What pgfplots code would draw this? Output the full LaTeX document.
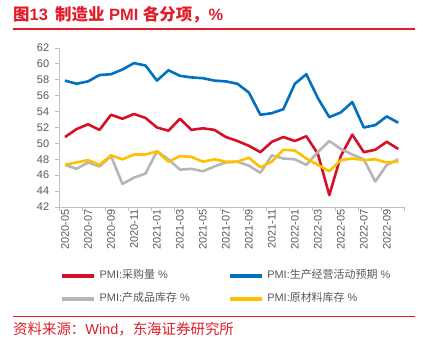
\documentclass[border=0pt]{standalone}
\usepackage{pgfplots}
\pgfplotsset{compat=1.18}
\usepackage{fontspec}
\setmainfont{Liberation Sans}
\newfontfamily\cjk{Noto Sans CJK SC}
\definecolor{tred}{RGB}{226,28,40}
\definecolor{lred}{RGB}{214,16,38}
\definecolor{lblue}{RGB}{0,112,192}
\definecolor{lgray}{RGB}{182,182,182}
\definecolor{lyellow}{RGB}{255,192,0}
\definecolor{tickgray}{RGB}{89,89,89}
\definecolor{axgray}{RGB}{191,191,191}
\begin{document}
\begin{tikzpicture}[x=1bp,y=1bp]
\path[use as bounding box] (0,0) rectangle (428,350);
\node[anchor=west, text=tred, font=\fontsize{16.5}{19}\selectfont\bfseries, inner sep=0pt] at (13,335) {{\cjk 图}13\ \,{\cjk 制造业} PMI {\cjk 各分项，}\%};
\draw[tred, line width=1.2bp] (13,321) -- (415,321);
\draw[tred, line width=1bp] (13,33) -- (415,33);
\node[anchor=west, text=tred, font=\fontsize{14.5}{17}\selectfont, inner sep=0pt] at (13,21) {{\cjk 资料来源：}Wind{\cjk ，东海证券研究所}};
\begin{axis}[
  at={(59.3bp,143bp)}, anchor=south west, scale only axis,
  width=344.7bp, height=159bp,
  xmin=-0.5, xmax=29.5, ymin=42, ymax=62,
  axis x line=bottom, axis y line=left,
  axis line style={draw=axgray, line width=0.8bp, -},
  ytick={42,44,...,62},
  xtick={-0.5,1.5,...,29.5},
  xticklabels={},
  extra x ticks={0,2,...,28},
  extra x tick labels={2020-05,2020-07,2020-09,2020-11,2021-01,2021-03,2021-05,2021-07,2021-09,2021-11,2022-01,2022-03,2022-05,2022-07,2022-09},
  extra x tick style={major tick length=0pt},
  tick align=outside, major tick length=4bp,
  tick style={draw=axgray, line width=0.8bp},
  /pgf/number format/assume math mode=true,
  ticklabel style={font=\fontsize{11}{13}\selectfont, text=tickgray},
  yticklabel style={inner sep=0pt, xshift=-6bp},
  xticklabel style={yshift=-2bp, rotate=90, anchor=east, inner sep=0pt},
  legend columns=2,
  legend cell align=left,
  legend style={at={(0.002,-0.40)}, anchor=north west, draw=none, fill=none, inner sep=0pt,
    font=\fontsize{11}{13}\selectfont, text=tickgray,
    nodes={inner sep=0pt, text height=8bp, text depth=2bp},
    row sep=13bp,
    /tikz/every odd column/.append style={column sep=4bp},
    /tikz/every even column/.append style={column sep=38bp}},
  legend image code/.code={\draw[line width=3.5bp] (0bp,0bp) -- (32bp,0bp);},
  every axis plot/.append style={line width=2.6bp, line join=round, mark=none},
]
\addplot[lred] coordinates {(0,50.8)(1,51.8)(2,52.4)(3,51.7)(4,53.6)(5,53.1)(6,53.7)(7,53.2)(8,52.0)(9,51.6)(10,53.1)(11,51.7)(12,51.9)(13,51.7)(14,50.8)(15,50.3)(16,49.7)(17,48.9)(18,50.2)(19,50.8)(20,50.3)(21,50.9)(22,48.7)(23,43.5)(24,48.4)(25,51.1)(26,48.9)(27,49.2)(28,50.2)(29,49.3)};
\addlegendentry{PMI:{\cjk 采购量} \%}
\addplot[lblue] coordinates {(0,57.9)(1,57.5)(2,57.8)(3,58.6)(4,58.7)(5,59.3)(6,60.1)(7,59.8)(8,57.9)(9,59.2)(10,58.5)(11,58.3)(12,58.2)(13,57.9)(14,57.8)(15,57.5)(16,56.4)(17,53.6)(18,53.8)(19,54.3)(20,57.5)(21,58.7)(22,55.7)(23,53.3)(24,53.9)(25,55.2)(26,52.0)(27,52.3)(28,53.4)(29,52.6)};
\addlegendentry{PMI:{\cjk 生产经营活动预期} \%}
\addplot[lgray] coordinates {(0,47.3)(1,46.8)(2,47.6)(3,47.1)(4,48.4)(5,44.9)(6,45.7)(7,46.2)(8,49.0)(9,48.0)(10,46.7)(11,46.8)(12,46.5)(13,47.1)(14,47.6)(15,47.7)(16,47.2)(17,46.3)(18,48.5)(19,48.1)(20,48.0)(21,47.3)(22,48.9)(23,50.3)(24,49.3)(25,48.6)(26,48.0)(27,45.2)(28,47.3)(29,48.0)};
\addlegendentry{PMI:{\cjk 产成品库存} \%}
\addplot[lyellow] coordinates {(0,47.3)(1,47.6)(2,47.9)(3,47.3)(4,48.5)(5,48.0)(6,48.6)(7,48.6)(8,49.0)(9,47.7)(10,48.4)(11,48.3)(12,47.7)(13,48.0)(14,47.7)(15,47.7)(16,48.2)(17,47.0)(18,47.7)(19,49.2)(20,49.1)(21,48.1)(22,47.3)(23,46.5)(24,47.9)(25,48.1)(26,47.9)(27,48.0)(28,47.6)(29,47.7)};
\addlegendentry{PMI:{\cjk 原材料库存} \%}
\end{axis}
\end{tikzpicture}
\end{document}
